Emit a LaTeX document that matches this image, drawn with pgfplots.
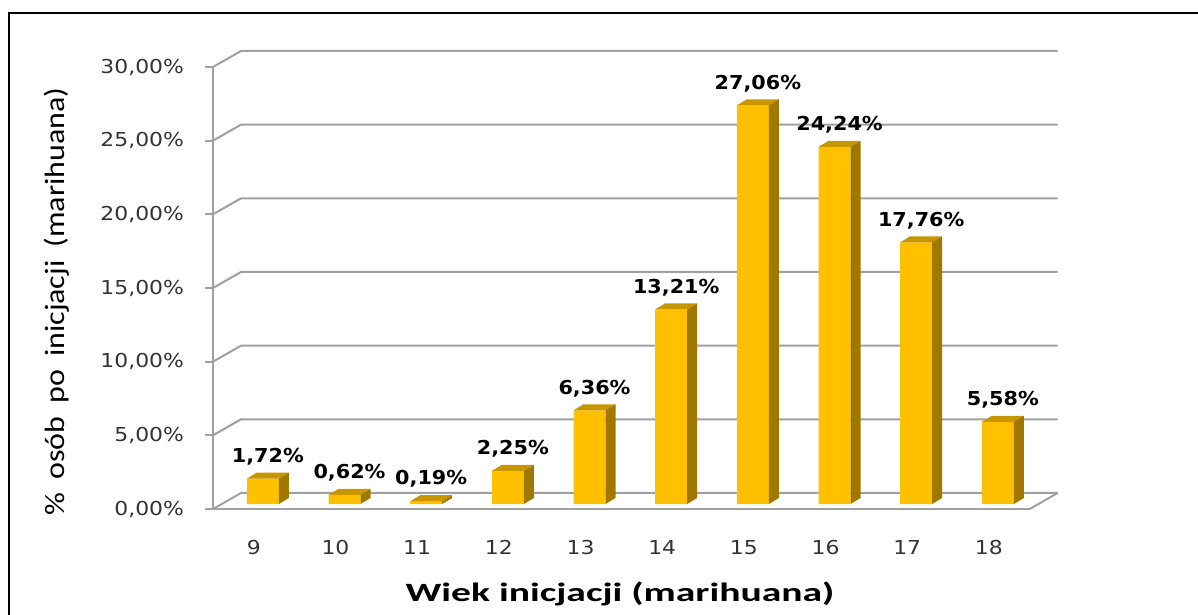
\documentclass[border=0pt]{standalone}
\usepackage{pgfplots}
\pgfplotsset{compat=1.18}
\usepackage{pgfplotstable}
\usepackage{graphicx}
\usepackage{fontspec}
\setmainfont{DejaVu Sans}
\newfontfamily\tickfont[FakeStretch=1.14]{DejaVu Sans}
\newfontfamily\labfont[FakeStretch=1.08]{DejaVu Sans}
\newfontfamily\titfont[FakeStretch=1.5]{Carlito}
\newfontfamily\ylabfont{Carlito}
\definecolor{barfront}{HTML}{FFC000}
\definecolor{bartop}{HTML}{C89600}
\definecolor{barside}{HTML}{A07800}
\definecolor{gridc}{HTML}{A0A0A0}
\definecolor{tickc}{HTML}{333333}

\pgfplotstableread{
age val
9 1.72
10 0.62
11 0.19
12 2.25
13 6.36
14 13.21
15 27.06
16 24.24
17 17.76
18 5.58
}\datatable

% side and top faces of a 3D bar, drawn at the data point (top of the bar)
\pgfdeclareplotmark{bar3d}{%
  \pgfkeys{/pgf/fpu=true,/pgf/fpu/output format=fixed}%
  \pgfmathsetmacro\hh{\ry*7.3665}%
  \pgfkeys{/pgf/fpu=false}%
  \pgfsetfillcolor{bartop}%
  \pgfpathmoveto{\pgfpoint{-3.5pt}{0pt}}%
  \pgfpathlineto{\pgfpoint{1.5pt}{3pt}}%
  \pgfpathlineto{\pgfpoint{17.5pt}{3pt}}%
  \pgfpathlineto{\pgfpoint{12.5pt}{0pt}}%
  \pgfpathclose
  \pgfusepath{fill}%
  \pgfsetfillcolor{barside}%
  \pgfpathmoveto{\pgfpoint{12.5pt}{0pt}}%
  \pgfpathlineto{\pgfpoint{17.5pt}{3pt}}%
  \pgfpathlineto{\pgfpoint{17.5pt}{3pt-\hh pt}}%
  \pgfpathlineto{\pgfpoint{12.5pt}{-\hh pt}}%
  \pgfpathclose
  \pgfusepath{fill}%
}

\begin{document}
\begin{tikzpicture}
\begin{axis}[
  x=40.835pt, y=7.3665pt,
  xmin=8.5, xmax=18.5,
  ymin=-0.339, ymax=29.661,
  enlargelimits=false,
  clip=false,
  axis lines=left,
  axis line style={-, draw=gridc, line width=1pt},
  xtick={9,10,11,12,13,14,15,16,17,18},
  xtick style={draw=none},
  ytick={-0.339,4.661,9.661,14.661,19.661,24.661,29.661},
  yticklabels={{0,00\%},{5,00\%},{10,00\%},{15,00\%},{20,00\%},{25,00\%},{30,00\%}},
  ytick style={draw=gridc, line width=1pt},
  tick align=outside,
  major tick length=4pt,
  /pgf/number format/assume math mode=true,
  yticklabel style={font=\tickfont\fontsize{9.6}{11}\selectfont, text=tickc, xshift=-7pt},
  xticklabel style={font=\tickfont\fontsize{9.6}{11}\selectfont, text=tickc, yshift=-8pt},
]
% back wall gridlines and floor
\pgfplotsinvokeforeach{0,5,10,15,20,25,30}{
  \draw[gridc, line width=1pt] (axis cs:8.5,#1-0.339) -- ([shift={(14pt,8pt)}]axis cs:8.5,#1-0.339) -- ([shift={(14pt,8pt)}]axis cs:18.5,#1-0.339);
}
\draw[gridc, line width=1pt] (axis cs:18.5,-0.339) -- ([shift={(14pt,8pt)}]axis cs:18.5,-0.339);

% front faces
\addplot[ybar, bar width=16pt, bar shift=4.5pt, fill=barfront, draw=none]
  table[x=age, y=val]{\datatable};
% top and side faces plus value labels
\addplot[only marks, mark=bar3d,
  visualization depends on={rawy \as \ry},
  nodes near coords={\pgfmathprintnumber[fixed, fixed zerofill, precision=2, use comma]{\pgfplotspointmeta}\%},
  every node near coord/.append style={anchor=center, xshift=7pt, yshift=11pt,
     font=\labfont\bfseries\fontsize{9.6}{11}\selectfont, text=black},
] table[x=age, y=val]{\datatable};

\coordinate (A) at (axis cs:8.5,0);
\end{axis}

\node[font=\titfont\bfseries\fontsize{13.2}{15}\selectfont, text=black] at ([shift={(203.5pt,-45pt)}]A) {Wiek inicjacji (marihuana)};
\node[rotate=90, font=\ylabfont\fontsize{16}{19}\selectfont, text=black] at ([shift={(-78pt,101.25pt)}]A)
  {\scalebox{1}[0.875]{\%\hspace{6.5pt}osób\hspace{6.5pt}po\hspace{6.5pt}inicjacji\hspace{6.5pt}(marihuana)}};

\draw[black, line width=1.4pt] ([shift={(-102pt,-80pt)}]A) -- ([shift={(-102pt,245.5pt)}]A) -- ([shift={(520pt,245.5pt)}]A);

\pgfresetboundingbox
\path[use as bounding box] ([shift={(-106.5pt,-55.5pt)}]A) rectangle ([shift={(492.5pt,252pt)}]A);
\end{tikzpicture}
\end{document}
